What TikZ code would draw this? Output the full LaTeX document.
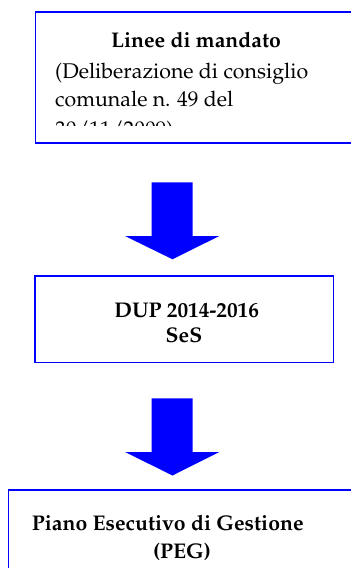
\documentclass[tikz,border=0pt]{standalone}
\usepackage[T1]{fontenc}
\renewcommand\rmdefault{ppl}
\begin{document}
\begin{tikzpicture}[x=1bp,y=-1bp,
  boxline/.style={draw={rgb,255:red,0;green,0;blue,255},line width=1.6bp},
  blockarrow/.style={fill={rgb,255:red,0;green,0;blue,255},draw=none},
  txtA/.style={inner sep=0pt,font=\fontsize{21.4}{24}\selectfont},
  txtB/.style={inner sep=0pt,font=\fontsize{21.3}{24}\selectfont\bfseries}]
\useasboundingbox (0,0) rectangle (350,568);
% box 1
\draw[boxline] (35.5,12.3) rectangle (370,143.3);
\node[txtB,anchor=base] (t1) at (196,47.7) {Linee di mandato};
\begin{scope}
\clip (36,13) rectangle (350,125.5);
\node[txtA,anchor=base west] (l1) at (55,78.3) {(Deliberazione di consiglio};
\node[txtA,anchor=base west] (l2) at (55,107) {comunale n. 49 del};
\node[txtA,anchor=base west] (l3) at (55,136.3) {30/11/2009)};
\end{scope}
% arrow 1
\fill[blockarrow] (151.7,182.3) -- (192.7,182.3) -- (192.7,236) -- (219.3,236) -- (172.5,259.3) -- (125,236) -- (151.7,236) -- cycle;
% box 2
\draw[boxline] (35,275.7) rectangle (333.3,362.3);
\node[txtB,anchor=base] (d1) at (186.7,317.3) {DUP 2014-2016};
\node[txtB,anchor=base] (d2) at (184,342.3) {SeS};
% arrow 2
\fill[blockarrow] (151.7,398.3) -- (192.7,398.3) -- (192.7,452) -- (219.3,452) -- (172.5,475.5) -- (125,452) -- (151.7,452) -- cycle;
% box 3
\draw[boxline] (8.3,590) -- (8.3,490) -- (370,490);
\node[txtB,anchor=base] (p1) at (167.8,530.7) {Piano Esecutivo di Gestione};
\node[txtB,anchor=base] (p2) at (182,558) {(PEG)};
\end{tikzpicture}
\end{document}
